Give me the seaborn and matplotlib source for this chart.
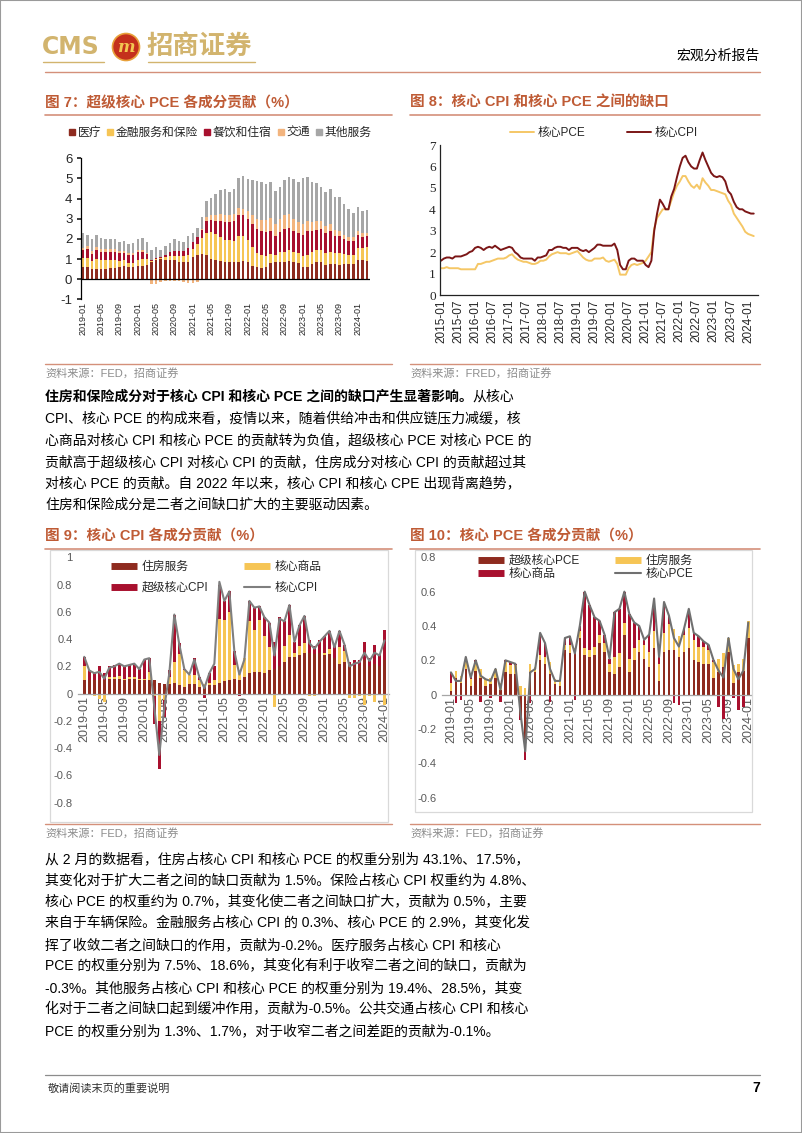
import numpy as np
import matplotlib
matplotlib.use('Agg')
import matplotlib.pyplot as plt
import seaborn as sns
from matplotlib.patches import Rectangle, Ellipse
from matplotlib.lines import Line2D

# --------------------------
# Data
# --------------------------
# Fig 7: supercore PCE contributions, monthly 2019-01 .. 2024-03
med7 = [0.58, 0.58, 0.5, 0.5, 0.5, 0.5, 0.55, 0.55, 0.6, 0.65, 0.6, 0.6,
        0.65, 0.65, 0.7, 0.85, 0.95, 1.0, 0.95, 0.95, 0.95, 0.85, 0.85, 0.85,
        1.1, 1.2, 1.25, 1.2, 1.0, 0.95, 0.9, 0.85, 0.85, 0.85, 0.85, 0.9,
        0.85, 0.65, 0.6, 0.55, 0.6, 0.8, 0.85, 0.85, 0.85, 0.9, 0.85, 0.8,
        0.6, 0.6, 0.75, 0.85, 0.85, 0.7, 0.75, 0.75, 0.7, 0.75, 0.75, 0.75,
        0.95, 0.95, 0.9]
fin7 = [0.45, 0.45, 0.4, 0.5, 0.45, 0.45, 0.4, 0.4, 0.3, 0.3, 0.2, 0.2,
        0.3, 0.35, 0.3, 0.05, 0.05, 0.05, 0.15, 0.2, 0.2, 0.3, 0.3, 0.35,
        0.4, 0.55, 0.8, 1.1, 1.35, 1.3, 1.2, 1.1, 1.1, 1.05, 1.3, 1.25,
        1.1, 0.95, 0.7, 0.65, 0.55, 0.45, 0.35, 0.5, 0.5, 0.55, 0.5, 0.5,
        0.55, 0.6, 0.6, 0.6, 0.6, 0.6, 0.6, 0.55, 0.6, 0.5, 0.45, 0.45,
        0.6, 0.6, 0.7]
food7 = [0.4, 0.45, 0.35, 0.45, 0.4, 0.4, 0.4, 0.4, 0.4, 0.35, 0.4, 0.4,
         0.4, 0.35, 0.25, 0.05, 0.05, 0.05, 0.1, 0.2, 0.25, 0.25, 0.25, 0.35,
         0.35, 0.35, 0.4, 0.6, 0.6, 0.65, 0.8, 0.9, 0.9, 1.0, 1.05, 1.05,
         1.05, 1.15, 1.2, 1.2, 1.2, 1.15, 0.95, 1.0, 1.15, 1.1, 1.05, 1.0,
         1.05, 1.2, 1.05, 1.0, 1.05, 1.0, 1.05, 0.85, 0.85, 0.75, 0.7, 0.7,
         0.65, 0.55, 0.55]
trans7 = [0.13, 0.15, 0.15, 0.15, 0.15, 0.15, 0.15, 0.15, 0.12, 0.12, 0.1, 0.1,
          0.12, 0.12, 0.05, -0.25, -0.25, -0.12, -0.1, -0.08, -0.08, -0.1, -0.15, -0.2,
          -0.2, -0.12, 0.05, 0.2, 0.25, 0.3, 0.35, 0.35, 0.35, 0.35, 0.35, 0.3,
          0.4, 0.45, 0.5, 0.55, 0.6, 0.65, 0.6, 0.65, 0.7, 0.7, 0.6, 0.55,
          0.55, 0.5, 0.45, 0.45, 0.4, 0.35, 0.35, 0.3, 0.25, 0.2, 0.2, 0.2,
          0.2, 0.2, 0.15]
other7 = [0.74, 0.57, 0.6, 0.6, 0.55, 0.5, 0.5, 0.5, 0.43, 0.48, 0.45, 0.5,
          0.53, 0.58, 0.55, 0.5, 0.55, 0.35, 0.45, 0.45, 0.6, 0.5, 0.45, 0.6,
          0.45, 0.45, 0.6, 0.8, 0.85, 1.05, 1.2, 1.3, 1.15, 1.25, 1.45, 1.6,
          1.55, 1.7, 1.85, 1.85, 1.75, 1.75, 1.65, 1.6, 1.7, 1.8, 1.95, 1.95,
          2.25, 2.15, 1.95, 1.85, 1.7, 1.7, 1.75, 1.65, 1.7, 1.55, 1.4, 1.2,
          1.2, 1.1, 1.15]
names7 = ['医疗', '金融服务和保险', '餐饮和住宿', '交通', '其他服务']
ticks7 = ['2019-01', '2019-05', '2019-09', '2020-01', '2020-05', '2020-09',
          '2021-01', '2021-05', '2021-09', '2022-01', '2022-05', '2022-09',
          '2023-01', '2023-05', '2023-09', '2024-01']

# Fig 8: core CPI vs core PCE (yoy, %), monthly 2015-01 .. 2024-03
cpi8 = [1.6, 1.7, 1.75, 1.75, 1.7, 1.8, 1.8, 1.8, 1.85, 1.9, 2.0, 2.05,
        2.2, 2.25, 2.2, 2.1, 2.2, 2.25, 2.2, 2.3, 2.2, 2.1, 2.15, 2.2,
        2.25, 2.2, 2.0, 1.9, 1.75, 1.7, 1.7, 1.7, 1.7, 1.6, 1.75, 1.75,
        1.8, 1.85, 2.1, 2.1, 2.2, 2.25, 2.25, 2.2, 2.2, 2.1, 2.2, 2.2,
        2.2, 2.1, 2.05, 2.1, 2.0, 2.1, 2.2, 2.35, 2.35, 2.3, 2.3, 2.3,
        2.3, 2.4, 2.1, 1.4, 1.2, 1.2, 1.6, 1.7, 1.7, 1.6, 1.6, 1.6,
        1.4, 1.3, 1.6, 3.0, 3.8, 4.45, 4.25, 4.0, 4.0, 4.6, 4.95, 5.5,
        6.0, 6.4, 6.5, 6.2, 6.0, 5.9, 5.9, 6.3, 6.65, 6.3, 6.0, 5.7,
        5.55, 5.5, 5.55, 5.5, 5.3, 4.85, 4.7, 4.35, 4.1, 4.0, 4.0, 3.9,
        3.85, 3.8, 3.8]
pce8 = [1.25, 1.25, 1.3, 1.25, 1.25, 1.25, 1.25, 1.2, 1.2, 1.2, 1.2, 1.2,
        1.2, 1.45, 1.45, 1.5, 1.55, 1.55, 1.6, 1.65, 1.7, 1.7, 1.7, 1.75,
        1.85, 1.9, 1.75, 1.65, 1.6, 1.55, 1.55, 1.5, 1.45, 1.45, 1.5, 1.6,
        1.6, 1.65, 1.8, 1.9, 1.95, 2.0, 1.95, 1.95, 1.95, 1.9, 1.95, 2.0,
        2.05, 1.9, 1.75, 1.65, 1.6, 1.6, 1.7, 1.7, 1.7, 1.75, 1.6, 1.55,
        1.6, 1.65, 1.45, 0.95, 0.95, 0.95, 1.25, 1.4, 1.45, 1.4, 1.45, 1.5,
        1.6, 1.8, 2.0, 3.1, 3.6, 3.8, 4.0, 4.0, 4.0, 4.4, 4.8, 5.1,
        5.3, 5.55, 5.55, 5.3, 5.1, 5.0, 5.15, 4.95, 5.45, 5.25, 5.1, 4.9,
        4.9, 4.85, 4.8, 4.75, 4.7, 4.4, 4.2, 3.8, 3.6, 3.4, 3.2, 2.95,
        2.85, 2.8, 2.75]
ticks8 = ['2015-01', '2015-07', '2016-01', '2016-07', '2017-01', '2017-07',
          '2018-01', '2018-07', '2019-01', '2019-07', '2020-01', '2020-07',
          '2021-01', '2021-07', '2022-01', '2022-07', '2023-01', '2023-07',
          '2024-01']

# Fig 9: core CPI contributions (mom, %), monthly 2019-01 .. 2024-01
house9 = [0.1, 0.1, 0.1, 0.1, 0.1, 0.11, 0.11, 0.11, 0.1, 0.11, 0.11, 0.1,
          0.1, 0.1, 0.1, 0.08, 0.07, 0.07, 0.08, 0.06, 0.05, 0.07, 0.07, 0.05,
          0.05, 0.06, 0.06, 0.08, 0.09, 0.1, 0.11, 0.1, 0.12, 0.15, 0.16, 0.16,
          0.15, 0.17, 0.18, 0.2, 0.23, 0.27, 0.27, 0.28, 0.3, 0.3, 0.29, 0.3,
          0.28, 0.29, 0.26, 0.22, 0.23, 0.22, 0.2, 0.21, 0.25, 0.2, 0.22, 0.2,
          0.25]
goods9 = [0.1, 0.0, -0.02, -0.04, -0.06, 0.01, 0.01, 0.02, 0.01, 0.01, 0.01, 0.01,
          0.01, 0.06, -0.02, -0.2, -0.05, 0.05, 0.15, 0.23, 0.12, 0.07, 0.07, 0.05,
          0.02, 0.02, 0.04, 0.47, 0.45, 0.5, 0.1, 0.06, 0.14, 0.38, 0.31, 0.38,
          0.27, 0.17, -0.1, -0.01, 0.12, 0.16, 0.03, 0.07, 0.07, -0.02, -0.02, -0.01,
          0.02, 0.04, -0.01, 0.12, 0.08, -0.03, -0.03, -0.02, -0.08, -0.02, -0.06, -0.01,
          -0.08]
super9 = [0.07, 0.07, 0.05, 0.1, 0.05, 0.08, 0.09, 0.09, 0.09, 0.09, 0.1, 0.07,
          0.14, 0.1, -0.2, -0.35, -0.12, 0.05, 0.35, 0.08, 0.01, 0.0, 0.12, 0.02,
          -0.03, 0.07, 0.1, 0.25, 0.14, 0.15, 0.1, -0.02, -0.01, 0.15, 0.16, 0.1,
          0.14, 0.18, 0.2, 0.36, 0.18, 0.22, 0.08, 0.15, 0.2, 0.09, 0.06, 0.09,
          0.12, 0.13, 0.09, 0.12, 0.05, 0.01, 0.05, 0.04, 0.13, 0.06, 0.14, 0.09,
          0.22]
core9 = [0.27, 0.17, 0.15, 0.16, 0.11, 0.19, 0.2, 0.22, 0.2, 0.21, 0.22, 0.18,
         0.25, 0.26, -0.1, -0.45, -0.1, 0.15, 0.58, 0.36, 0.18, 0.14, 0.25, 0.12,
         0.04, 0.15, 0.22, 0.82, 0.68, 0.75, 0.31, 0.14, 0.25, 0.68, 0.63, 0.64,
         0.56, 0.52, 0.28, 0.55, 0.53, 0.65, 0.38, 0.5, 0.57, 0.37, 0.33, 0.38,
         0.42, 0.46, 0.34, 0.46, 0.36, 0.2, 0.22, 0.23, 0.3, 0.24, 0.3, 0.28,
         0.39]

# Fig 10: core PCE contributions (mom, %), monthly 2019-01 .. 2024-01
super10 = [0.02, 0.1, 0.07, 0.15, 0.05, 0.14, 0.1, 0.05, 0.06, 0.1, 0.03, 0.13,
           0.12, 0.12, -0.12, -0.3, 0.13, 0.13, 0.2, 0.18, 0.12, 0.06, 0.05, 0.26,
           0.24, 0.24, 0.33, 0.23, 0.22, 0.23, 0.3, 0.25, 0.13, 0.12, 0.16, 0.35,
           0.13, 0.2, 0.25, 0.21, 0.16, 0.27, 0.08, 0.25, 0.26, 0.26, 0.22, 0.25,
           0.27, 0.2, 0.19, 0.18, 0.18, 0.1, 0.13, 0.16, 0.25, 0.07, 0.13, 0.14,
           0.33]
house10 = [0.05, 0.04, 0.04, 0.05, 0.04, 0.05, 0.05, 0.04, 0.04, 0.05, 0.04, 0.06,
           0.05, 0.05, 0.05, 0.04, 0.05, 0.03, 0.03, 0.04, 0.07, 0.03, 0.03, 0.03,
           0.05, 0.03, 0.04, 0.04, 0.04, 0.05, 0.05, 0.05, 0.05, 0.1, 0.08, 0.07,
           0.08, 0.07, 0.07, 0.08, 0.09, 0.1, 0.1, 0.11, 0.15, 0.12, 0.12, 0.1,
           0.12, 0.12, 0.09, 0.1, 0.08, 0.09, 0.08, 0.08, 0.08, 0.1, 0.05, 0.07,
           0.1]
goods10 = [0.06, -0.05, -0.03, 0.02, 0.01, 0.01, -0.04, 0.0, -0.02, 0.0, -0.04, 0.01,
           0.02, 0.01, -0.03, -0.08, -0.05, 0.0, 0.13, 0.08, -0.04, -0.01, 0.0, 0.04,
           0.05, -0.03, 0.03, 0.33, 0.26, 0.17, 0.08, 0.05, 0.03, 0.26, 0.26, 0.18,
           0.26, 0.15, 0.08, 0.03, 0.1, 0.19, 0.04, 0.18, 0.05, -0.05, -0.06, 0.03,
           0.11, 0.04, 0.06, 0.03, 0.03, 0.01, -0.07, -0.14, 0.0, -0.02, -0.09, -0.07,
           -0.01]
core10 = [0.13, 0.08, 0.08, 0.22, 0.1, 0.2, 0.11, 0.09, 0.08, 0.15, 0.03, 0.2,
          0.19, 0.18, -0.1, -0.33, 0.13, 0.15, 0.36, 0.3, 0.15, 0.08, 0.08, 0.33,
          0.34, 0.24, 0.4, 0.6, 0.52, 0.45, 0.43, 0.35, 0.21, 0.48, 0.5, 0.6,
          0.47, 0.42, 0.4, 0.32, 0.35, 0.56, 0.22, 0.54, 0.46, 0.33, 0.28, 0.38,
          0.5, 0.36, 0.34, 0.31, 0.29, 0.2, 0.14, 0.1, 0.33, 0.15, 0.09, 0.14,
          0.42]
ticks910 = ticks7

para1_bold = '住房和保险成分对于核心 CPI 和核心 PCE 之间的缺口产生显著影响。'
para1 = ['从核心',
         'CPI、核心 PCE 的构成来看，疫情以来，随着供给冲击和供应链压力减缓，核',
         '心商品对核心 CPI 和核心 PCE 的贡献转为负值，超级核心 PCE 对核心 PCE 的',
         '贡献高于超级核心 CPI 对核心 CPI 的贡献，住房成分对核心 CPI 的贡献超过其',
         '对核心 PCE 的贡献。自 2022 年以来，核心 CPI 和核心 CPE 出现背离趋势，',
         '住房和保险成分是二者之间缺口扩大的主要驱动因素。']
para2 = ['从 2 月的数据看，住房占核心 CPI 和核心 PCE 的权重分别为 43.1%、17.5%，',
         '其变化对于扩大二者之间的缺口贡献为 1.5%。保险占核心 CPI 权重约为 4.8%、',
         '核心 PCE 的权重约为 0.7%，其变化使二者之间缺口扩大，贡献为 0.5%，主要',
         '来自于车辆保险。金融服务占核心 CPI 的 0.3%、核心 PCE 的 2.9%，其变化发',
         '挥了收敛二者之间缺口的作用，贡献为-0.2%。医疗服务占核心 CPI 和核心',
         'PCE 的权重分别为 7.5%、18.6%，其变化有利于收窄二者之间的缺口，贡献为',
         '-0.3%。其他服务占核心 CPI 和核心 PCE 的权重分别为 19.4%、28.5%，其变',
         '化对于二者之间缺口起到缓冲作用，贡献为-0.5%。公共交通占核心 CPI 和核心',
         'PCE 的权重分别为 1.3%、1.7%，对于收窄二者之间差距的贡献为-0.1%。']

# --------------------------
# Style
# --------------------------
sns.set_theme(style='white')
FONT = ['Liberation Sans', 'Noto Sans CJK SC', 'DejaVu Sans']
plt.rcParams['font.family'] = FONT
plt.rcParams['axes.unicode_minus'] = False

DARK = '#8E2B1F'
CRIM = '#A8102E'
YEL = '#F6C555'
ORG = '#F2B47E'
GREY = '#A6A6A6'
TITLE_C = '#BF5B35'
RULE_C = '#D4907A'
GOLD = '#D2B46E'

W, H = 802, 1133
fig = plt.figure(figsize=(W / 100, H / 100), dpi=100)


def rect(x0, y0, x1, y1):
    return [x0 / W, 1 - y1 / H, (x1 - x0) / W, (y1 - y0) / H]


def ftext(x, y, s, **kw):
    kw.setdefault('va', 'center')
    return fig.text(x / W, 1 - y / H, s, **kw)


def hline(x0, x1, y, color, lw):
    fig.add_artist(Line2D([x0 / W, x1 / W], [1 - y / H, 1 - y / H], color=color, lw=lw))


def stack(ax, layers, colors, width):
    x = np.arange(len(layers[0]))
    pos = np.zeros(len(x))
    neg = np.zeros(len(x))
    for vals, c in zip(layers, colors):
        v = np.asarray(vals, dtype=float)
        ax.bar(x, v, bottom=np.where(v >= 0, pos, neg), width=width, color=c, linewidth=0)
        pos += np.clip(v, 0, None)
        neg += np.clip(v, None, 0)


# --------------------------
# Page header
# --------------------------
fig.add_artist(Rectangle((0, 0), 1, 1, transform=fig.transFigure, fill=False, ec='#9A9A9A', lw=1.5))
ftext(42, 47, 'CMS', color=GOLD, fontsize=17, weight='bold', family='DejaVu Sans')
fig.add_artist(Ellipse((126 / W, 1 - 47 / H), 27 / W, 27 / H, transform=fig.transFigure,
                       fc='#C4301C', ec='#E8A13A', lw=1.2))
ftext(126, 47, 'm', color='#F3C851', fontsize=12, weight='bold', style='italic',
      family='DejaVu Serif', ha='center')
ftext(146, 46, '招商证券', color=GOLD, fontsize=19, weight='bold', family=FONT)
hline(43, 104, 62, GOLD, 1.0)
hline(148, 255, 62, GOLD, 1.0)
ftext(760, 56, '宏观分析报告', fontsize=10, ha='right', color='black')
hline(45, 760, 72, RULE_C, 1.0)

# chart titles
for x0, x1, y, s in [(45, 392, 103, '图 7：超级核心 PCE 各成分贡献（%）'),
                     (410, 760, 103, '图 8：核心 CPI 和核心 PCE 之间的缺口'),
                     (45, 392, 537, '图 9：核心 CPI 各成分贡献（%）'),
                     (410, 760, 537, '图 10：核心 PCE 各成分贡献（%）')]:
    ftext(x0, y, s, color=TITLE_C, fontsize=10.5, weight='bold')
    hline(x0, x1, y + 12, RULE_C, 1.2)

# source lines
for x0, x1, y, s in [(45, 392, 364, '资料来源：FED，招商证券'),
                     (410, 760, 364, '资料来源：FRED，招商证券'),
                     (45, 392, 824, '资料来源：FED，招商证券'),
                     (410, 760, 824, '资料来源：FED，招商证券')]:
    hline(x0, x1, y, RULE_C, 1.0)
    ftext(x0, y + 9, s, color='#8C8C8C', fontsize=8)

# --------------------------
# Fig 7
# --------------------------
ax7 = fig.add_axes(rect(80.7, 158.3, 370, 299.3))
stack(ax7, [med7, fin7, food7, trans7, other7], [DARK, YEL, CRIM, ORG, GREY], 0.55)
ax7.axhline(0, color='black', lw=0.9)
ax7.set_ylim(-1, 6)
ax7.set_xlim(-0.45, 62.65)
ax7.set_yticks(range(-1, 7))
ax7.set_xticks(range(0, 61, 4))
ax7.set_xticklabels(ticks7, rotation=90, fontsize=6.5)
ax7.tick_params(axis='x', length=0, pad=2)
ax7.tick_params(axis='y', labelsize=9.5, length=3, direction='out', pad=3, left=True)
for s in ['top', 'right', 'bottom']:
    ax7.spines[s].set_visible(False)
ax7.spines['left'].set_color('black')
ax7.spines['left'].set_linewidth(0.9)
h7 = [Line2D([], [], marker='s', ls='', color=c, markersize=5) for c in [DARK, YEL, CRIM, ORG, GREY]]
ax7.legend(h7, names7, ncol=5, loc='center left', bbox_to_anchor=(68 / W, 1 - 133 / H),
           bbox_transform=fig.transFigure, frameon=False, fontsize=8.5, handlelength=0.7,
           handletextpad=0.1, columnspacing=0.45, borderpad=0, borderaxespad=0)

# --------------------------
# Fig 8
# --------------------------
ax8 = fig.add_axes(rect(440, 145, 758, 295))
x8 = np.arange(len(cpi8))
sns.lineplot(x=x8, y=pce8, ax=ax8, color='#F5C766', lw=1.4, label='核心PCE')
sns.lineplot(x=x8, y=cpi8, ax=ax8, color='#7B1616', lw=1.4, label='核心CPI')
ax8.set_ylim(0, 7)
ax8.set_xlim(-0.35, 111.5)
ax8.set_yticks(range(0, 8))
ax8.set_yticklabels([str(v) for v in range(0, 8)], family='Liberation Serif', fontsize=9.5)
ax8.set_xticks(range(0, 109, 6))
ax8.set_xticklabels(ticks8, rotation=90, fontsize=8.5)
ax8.tick_params(axis='both', length=0, pad=3)
ax8.set_xlabel('')
ax8.set_ylabel('')
for s in ['top', 'right']:
    ax8.spines[s].set_visible(False)
for s in ['left', 'bottom']:
    ax8.spines[s].set_color('#222222')
    ax8.spines[s].set_linewidth(0.9)
ax8.legend(ncol=2, loc='center left', bbox_to_anchor=(510 / W, 1 - 133 / H),
           bbox_transform=fig.transFigure, frameon=False, fontsize=8.5, handlelength=2.0,
           handletextpad=0.3, columnspacing=3.6, borderpad=0, borderaxespad=0)

# --------------------------
# Fig 9 / Fig 10
# --------------------------
def contrib(box, axrect, xlim, ylim, yticks, layers, colors, line, line_c, names, leg_xy, labsp):
    fig.add_artist(Rectangle((box[0] / W, 1 - box[3] / H), (box[2] - box[0]) / W,
                             (box[3] - box[1]) / H, transform=fig.transFigure,
                             fill=False, ec='#D9D9D9', lw=0.9))
    ax = fig.add_axes(rect(*axrect))
    for s in ['top', 'right', 'left']:
        ax.spines[s].set_visible(False)
    # moving the spine resets the ticks, so do it before styling them
    ax.spines['bottom'].set_position(('data', 0))
    ax.spines['bottom'].set_color('#A6A6A6')
    ax.spines['bottom'].set_linewidth(0.9)
    stack(ax, layers, colors, 0.5)
    sns.lineplot(x=np.arange(len(line)), y=line, ax=ax, color=line_c, lw=1.5)
    ax.set_xlim(*xlim)
    ax.set_ylim(*ylim)
    ax.set_yticks(yticks)
    ax.set_yticklabels([('%g' % v) for v in yticks])
    ax.set_xticks(range(0, 61, 4))
    ax.set_xticklabels(ticks910, rotation=90, fontsize=9, color='#595959', va='top')
    ax.tick_params(axis='y', labelsize=8, colors='#595959', length=0, pad=4)
    ax.tick_params(axis='x', length=0, pad=2)
    ax.set_xlabel('')
    ax.set_ylabel('')
    hd = [Line2D([], [], color=colors[0], lw=5, solid_capstyle='butt'),
          Line2D([], [], color=colors[2], lw=5, solid_capstyle='butt'),
          Line2D([], [], color=colors[1], lw=5, solid_capstyle='butt'),
          Line2D([], [], color=line_c, lw=1.5)]
    lb = [names[0], names[2], names[1], names[3]]
    ax.legend(hd, lb, ncol=2, loc='upper left', bbox_to_anchor=(leg_xy[0] / W, 1 - leg_xy[1] / H),
              bbox_transform=fig.transFigure, frameon=False, fontsize=8.5, handlelength=2.2,
              handletextpad=0.4, columnspacing=3.0, labelspacing=labsp, borderpad=0,
              borderaxespad=0)
    return ax


contrib((50, 550, 388, 822), (78, 557.3, 389, 802.7), (-1.25, 60.9), (-0.8, 1.0),
        [-0.8, -0.6, -0.4, -0.2, 0, 0.2, 0.4, 0.6, 0.8, 1],
        [house9, goods9, super9], [DARK, YEL, CRIM], core9, '#7F7F7F',
        ['住房服务', '核心商品', '超级核心CPI', '核心CPI'], (111, 561), 0.75)
contrib((415, 550, 752, 812), (442, 557.3, 751, 797.7), (-1.8, 60.55), (-0.6, 0.8),
        [-0.6, -0.4, -0.2, 0, 0.2, 0.4, 0.6, 0.8],
        [super10, house10, goods10], [DARK, YEL, CRIM], core10, '#707070',
        ['超级核心PCE', '住房服务', '核心商品', '核心PCE'], (478, 555), 0.1)

# --------------------------
# Body text
# --------------------------
t = ftext(45, 397, para1_bold, fontsize=10, weight='bold', color='black')
fig.canvas.draw()
bb = t.get_window_extent()
ftext(bb.x1, 397, para1[0], fontsize=10, color='black')
for i, line in enumerate(para1[1:]):
    ftext(45, 397 + 21.6 * (i + 1), line, fontsize=10, color='black')
for i, line in enumerate(para2):
    ftext(45, 859 + 21.5 * i, line, fontsize=10, color='black')

# footer
hline(45, 760, 1075, '#8C8C8C', 0.9)
ftext(48, 1088, '敬请阅读末页的重要说明', fontsize=8, color='#333333')
ftext(760, 1088, '7', fontsize=10, weight='bold', ha='right', color='black')

fig.savefig('out.png', dpi=100)
plt.close(fig)
